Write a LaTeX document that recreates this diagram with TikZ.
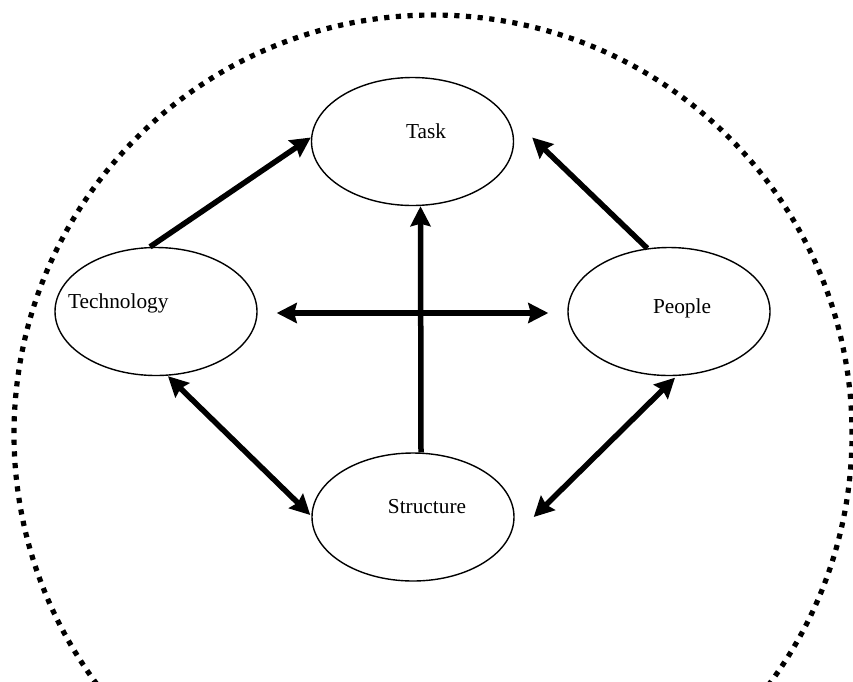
\documentclass[tikz,border=0pt]{standalone}
\usepackage{fontspec}
\setmainfont{Liberation Serif}
\usetikzlibrary{shapes.geometric,arrows.meta}
\tikzset{
  oval/.style={ellipse, draw=black, line width=1.4pt, minimum width=202pt, minimum height=128pt, inner sep=0pt},
  lbl/.style={inner sep=0pt, font=\fontsize{21.3}{25}\selectfont},
  fat/.style={line width=5.5pt, draw=black},
  tip/.tip={Stealth[length=20pt,width=20pt,inset=2.5pt]},
  dotring/.style={line width=5.2pt, dash pattern=on 5.2pt off 6.5pt}
}
\begin{document}
\begin{tikzpicture}[x=1pt,y=-1pt]
\useasboundingbox (0,0) rectangle (853,681);
\clip (0,0) rectangle (853,681);
\fill[white] (0,0) rectangle (853,681);
\draw[dotring] (433,434) circle[radius=419pt];

\node[oval] (task) at (412.5,141.5) {};
\node[oval] (tech) at (156,311.5) {};
\node[oval] (people) at (669,311.5) {};
\node[oval] (structure) at (413,517) {};

\node[lbl, anchor=base] (tasktext) at (426,138) {Task};
\node[lbl, anchor=base west] (techtext) at (68,308) {Technology};
\node[lbl, anchor=base] (peopletext) at (682,313) {People};
\node[lbl, anchor=base] (structtext) at (427,513) {Structure};

\draw[fat, -tip] ([xshift=-6pt]tech.north) -- ([yshift=4pt]task.west);
\draw[fat, -tip] (people.109) -- ([xshift=18pt,yshift=4pt]task.east);
\draw[fat, -tip] ([xshift=8pt]structure.north) -- ([xshift=8pt]task.south);
\draw[fat, tip-tip] ([xshift=19pt,yshift=-1.5pt]tech.east) -- ([xshift=-19pt,yshift=-1.5pt]people.west);
\draw[fat, tip-tip] ([xshift=12pt]tech.south) -- ([xshift=-1pt,yshift=2pt]structure.west);
\draw[fat, tip-tip] ([xshift=6pt,yshift=-1.5pt]people.south) -- ([xshift=19pt]structure.east);
\end{tikzpicture}
\end{document}
